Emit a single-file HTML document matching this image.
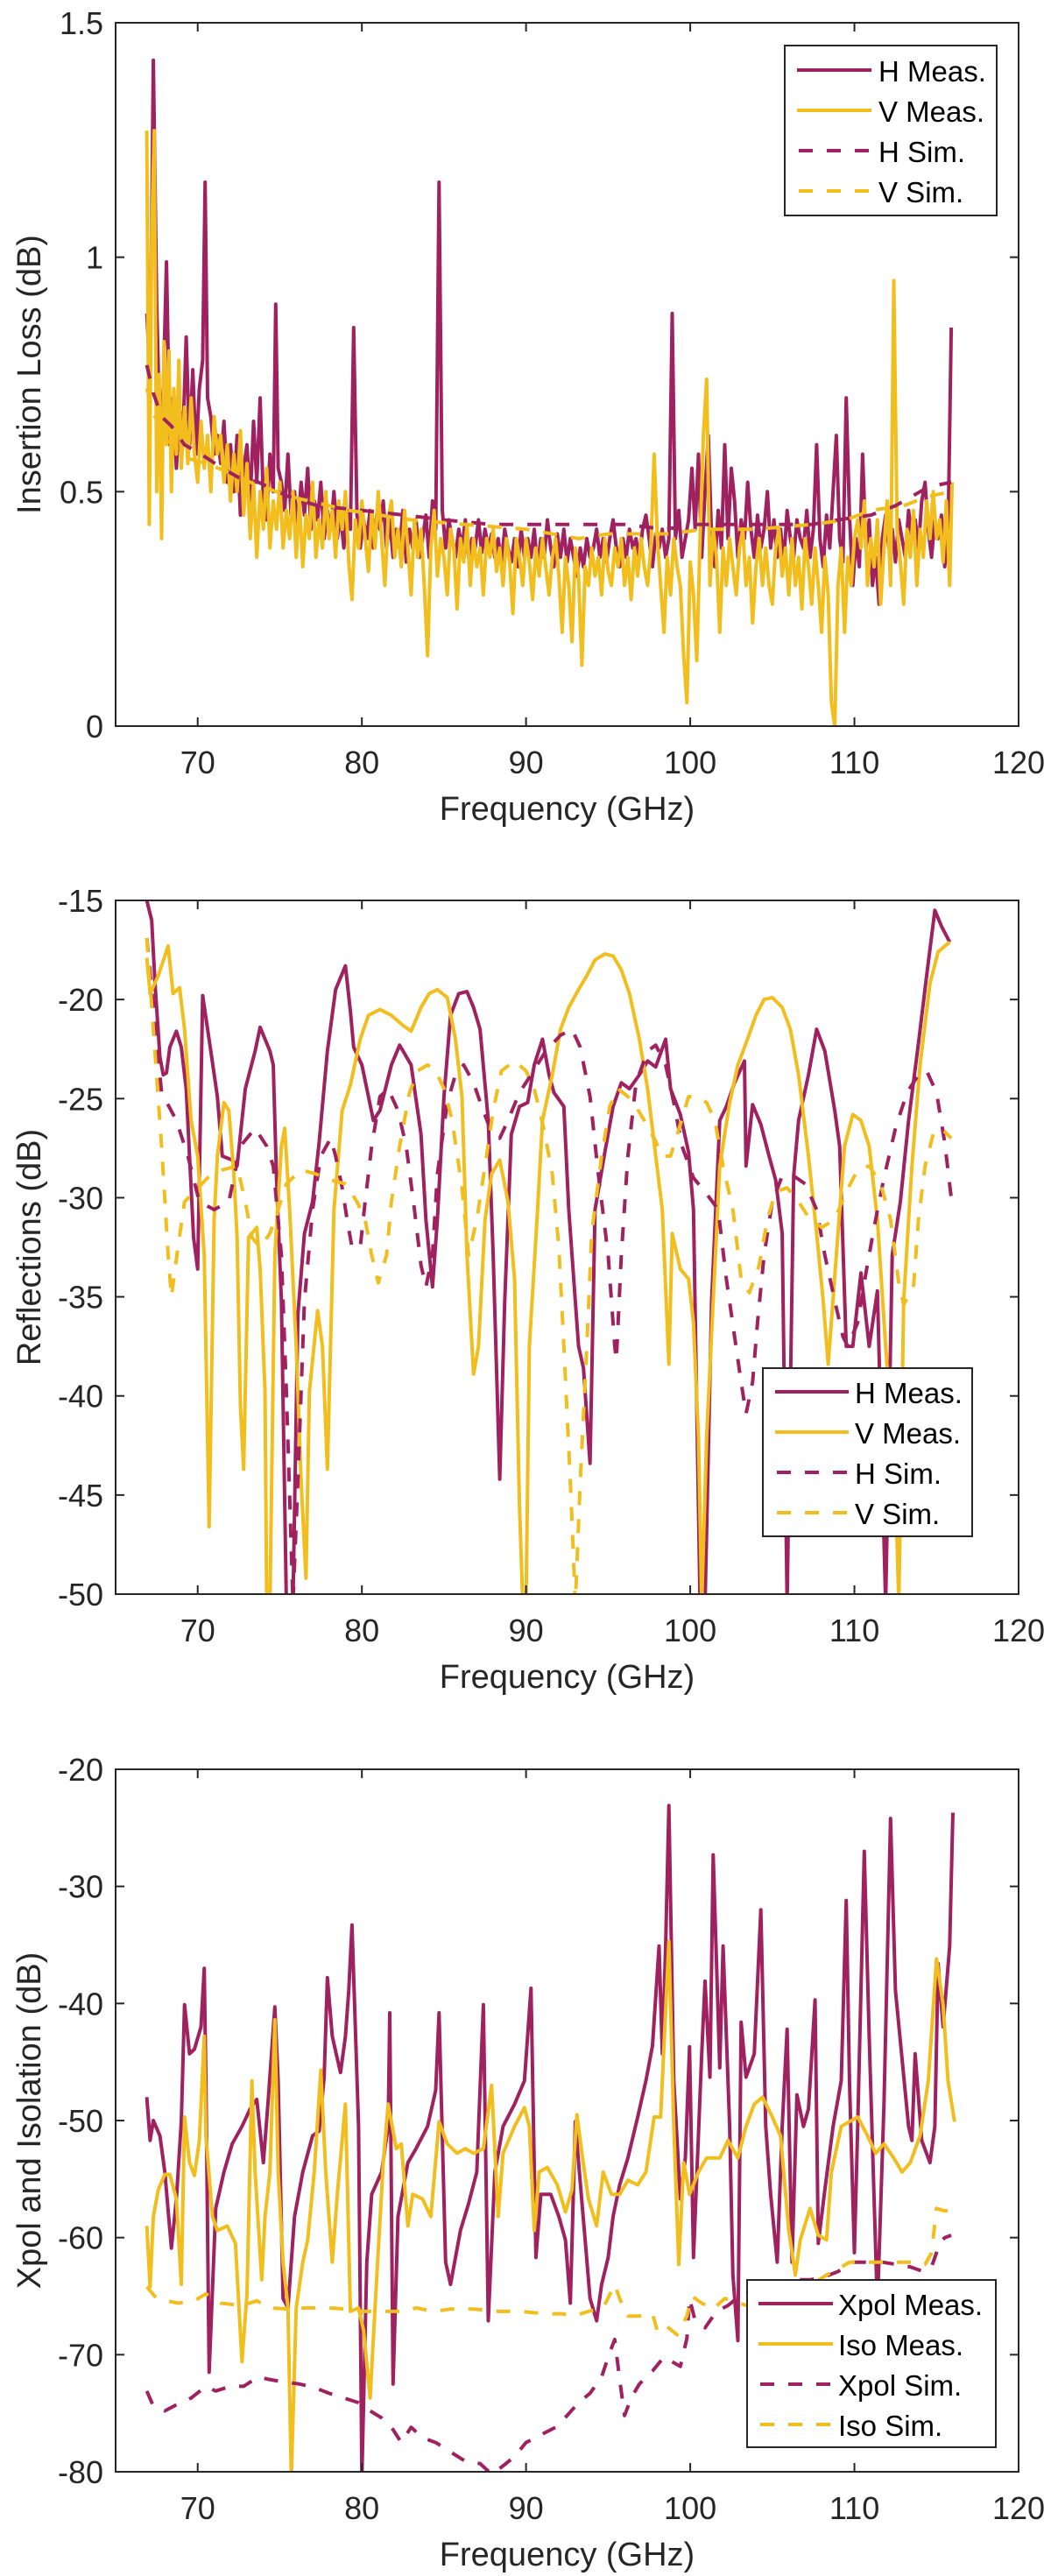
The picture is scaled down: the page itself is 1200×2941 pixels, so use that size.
<!DOCTYPE html>
<html><head><meta charset="utf-8"><style>
html,body{margin:0;padding:0;background:#fff;}
svg{display:block;font-family:"Liberation Sans",Arial,sans-serif;}
</style></head><body>
<svg id="fig" width="1200" height="2941" viewBox="0 0 1200 2941" xmlns="http://www.w3.org/2000/svg">
<defs>
<clipPath id="c1"><rect x="132" y="26" width="1031" height="803"/></clipPath>
<clipPath id="c2"><rect x="132" y="1028" width="1031" height="792"/></clipPath>
<clipPath id="c3"><rect x="132" y="2020" width="1031" height="802"/></clipPath>
</defs>
</svg>
<script>
// ---------- shared axis ----------
const xTicks = [70, 80, 90, 100, 110, 120];
const xMin = 65, xMax = 120;
// ---------- panel 1: insertion loss ----------
const ilTicks = [0, 0.5, 1, 1.5];
const ilTickLabels = ['0', '0.5', '1', '1.5'];
const ilHMeas = [[66.9,.88],[67.1,.75],[67.3,1.42],[67.5,.9],[67.7,.62],[67.9,.72],[68.1,.99],[68.3,.6],[68.5,.7],[68.7,.55],[68.9,.68],[69.1,.62],[69.3,.83],[69.5,.6],[69.7,.76],[69.9,.58],[70.1,.72],[70.3,.78],[70.45,1.16],[70.6,.7],[70.8,.66],[71,.58],[71.2,.62],[71.4,.56],[71.6,.65],[71.8,.52],[72,.6],[72.2,.5],[72.4,.62],[72.6,.45],[72.8,.55],[73,.6],[73.2,.48],[73.4,.65],[73.6,.52],[73.8,.7],[74,.48],[74.2,.44],[74.4,.58],[74.6,.5],[74.75,.9],[74.9,.55],[75.1,.52],[75.3,.46],[75.5,.58],[75.7,.44],[75.9,.5],[76.1,.42],[76.3,.52],[76.5,.45],[76.7,.55],[76.9,.42],[77.1,.48],[77.3,.44],[77.5,.52],[77.7,.4],[77.9,.46],[78.1,.42],[78.3,.5],[78.5,.4],[78.7,.45],[78.9,.38],[79.1,.46],[79.3,.42],[79.5,.85],[79.7,.45],[79.9,.38],[80.1,.44],[80.3,.4],[80.5,.46],[80.7,.38],[80.9,.45],[81.1,.42],[81.3,.48],[81.5,.38],[81.7,.44],[81.9,.36],[82.1,.42],[82.3,.38],[82.5,.46],[82.7,.35],[82.9,.42],[83.1,.38],[83.3,.44],[83.5,.36],[83.7,.4],[83.9,.45],[84.1,.36],[84.3,.48],[84.5,.42],[84.7,1.16],[84.9,.46],[85.1,.38],[85.3,.44],[85.5,.4],[85.7,.36],[85.9,.42],[86.1,.38],[86.3,.44],[86.5,.36],[86.7,.4],[86.9,.38],[87.1,.44],[87.3,.37],[87.5,.42],[87.7,.38],[87.9,.41],[88.1,.36],[88.3,.4],[88.5,.35],[88.7,.42],[88.9,.38],[89.1,.35],[89.3,.4],[89.5,.34],[89.7,.42],[89.9,.36],[90.1,.4],[90.3,.36],[90.5,.42],[90.7,.34],[90.9,.4],[91.1,.36],[91.3,.44],[91.5,.38],[91.7,.34],[91.9,.41],[92.1,.36],[92.3,.42],[92.5,.35],[92.7,.4],[92.9,.36],[93.1,.32],[93.3,.38],[93.5,.34],[93.7,.4],[93.9,.36],[94.1,.38],[94.3,.42],[94.5,.36],[94.7,.4],[94.9,.35],[95.1,.4],[95.3,.44],[95.5,.38],[95.7,.34],[95.9,.4],[96.1,.36],[96.3,.42],[96.5,.38],[96.7,.4],[96.9,.36],[97.1,.42],[97.3,.45],[97.5,.4],[97.7,.34],[97.9,.41],[98.1,.38],[98.3,.42],[98.5,.36],[98.7,.4],[98.9,.88],[99.1,.4],[99.3,.46],[99.5,.36],[99.7,.4],[99.9,.44],[100.1,.55],[100.3,.42],[100.5,.58],[100.7,.36],[100.9,.5],[101.1,.62],[101.3,.4],[101.5,.34],[101.7,.46],[101.9,.38],[102.1,.6],[102.3,.4],[102.5,.55],[102.7,.48],[102.9,.36],[103.1,.44],[103.3,.4],[103.5,.52],[103.7,.42],[103.9,.36],[104.1,.45],[104.3,.38],[104.5,.42],[104.7,.5],[104.9,.38],[105.1,.44],[105.3,.36],[105.5,.42],[105.7,.35],[105.9,.46],[106.1,.4],[106.3,.36],[106.5,.44],[106.7,.4],[106.9,.38],[107.1,.46],[107.3,.36],[107.5,.42],[107.7,.6],[107.9,.4],[108.1,.34],[108.3,.45],[108.5,.38],[108.7,.5],[108.9,.62],[109.1,.4],[109.3,.35],[109.5,.7],[109.7,.45],[109.9,.3],[110.1,.4],[110.3,.34],[110.5,.58],[110.7,.38],[110.9,.44],[111.1,.3],[111.3,.36],[111.5,.26],[111.7,.4],[111.9,.45],[112.1,.38],[112.3,.42],[112.5,.35],[112.7,.44],[112.9,.4],[113.1,.36],[113.3,.46],[113.5,.4],[113.7,.44],[113.9,.38],[114.1,.48],[114.3,.52],[114.5,.42],[114.7,.36],[114.9,.44],[115.1,.4],[115.3,.45],[115.5,.34],[115.7,.4],[115.9,.85]];
const ilVMeas = [[66.9,1.27],[67.05,.43],[67.2,1.05],[67.35,1.27],[67.5,.5],[67.65,.75],[67.8,.4],[67.95,.82],[68.1,.6],[68.25,.8],[68.4,.5],[68.55,.72],[68.7,.58],[68.85,.78],[69,.55],[69.2,.68],[69.4,.56],[69.6,.7],[69.8,.58],[70,.52],[70.2,.65],[70.4,.55],[70.6,.62],[70.8,.5],[71,.66],[71.2,.58],[71.4,.62],[71.6,.52],[71.8,.6],[72,.48],[72.2,.58],[72.4,.5],[72.6,.63],[72.8,.45],[73,.56],[73.2,.4],[73.4,.52],[73.6,.36],[73.8,.5],[74,.42],[74.2,.55],[74.4,.38],[74.6,.48],[74.8,.42],[75,.52],[75.2,.38],[75.4,.46],[75.6,.4],[75.8,.5],[76,.36],[76.2,.48],[76.4,.34],[76.6,.45],[76.8,.4],[77,.52],[77.2,.36],[77.4,.44],[77.6,.38],[77.8,.5],[78,.4],[78.2,.46],[78.4,.36],[78.6,.48],[78.8,.42],[79,.5],[79.2,.35],[79.4,.27],[79.6,.44],[79.8,.38],[80,.48],[80.2,.4],[80.4,.33],[80.6,.46],[80.8,.38],[81,.5],[81.2,.4],[81.4,.3],[81.6,.44],[81.8,.48],[82,.36],[82.2,.42],[82.4,.34],[82.6,.46],[82.8,.38],[83,.28],[83.2,.44],[83.4,.36],[83.6,.42],[83.8,.3],[84,.15],[84.2,.38],[84.4,.46],[84.6,.32],[84.8,.4],[85,.36],[85.2,.28],[85.4,.42],[85.6,.38],[85.8,.25],[86,.4],[86.2,.35],[86.4,.43],[86.6,.3],[86.8,.4],[87,.34],[87.2,.38],[87.4,.28],[87.6,.4],[87.8,.36],[88,.42],[88.2,.33],[88.4,.38],[88.6,.3],[88.8,.4],[89,.35],[89.2,.24],[89.4,.4],[89.6,.36],[89.8,.3],[90,.4],[90.2,.35],[90.4,.27],[90.6,.38],[90.8,.32],[91,.4],[91.2,.34],[91.4,.28],[91.6,.36],[91.8,.4],[92,.32],[92.2,.2],[92.4,.36],[92.6,.3],[92.8,.18],[93,.38],[93.2,.32],[93.4,.13],[93.6,.34],[93.8,.3],[94,.38],[94.2,.32],[94.4,.36],[94.6,.28],[94.8,.4],[95,.33],[95.2,.3],[95.4,.38],[95.6,.34],[95.8,.4],[96,.3],[96.2,.36],[96.4,.27],[96.6,.38],[96.8,.32],[97,.4],[97.2,.34],[97.4,.3],[97.6,.38],[97.8,.58],[98,.4],[98.2,.3],[98.4,.2],[98.6,.36],[98.8,.28],[99,.4],[99.2,.34],[99.4,.3],[99.6,.15],[99.8,.05],[100,.35],[100.2,.28],[100.4,.14],[100.6,.4],[100.8,.62],[101,.74],[101.2,.3],[101.4,.42],[101.6,.36],[101.8,.2],[102,.38],[102.2,.3],[102.4,.4],[102.6,.34],[102.8,.28],[103,.38],[103.2,.42],[103.4,.3],[103.6,.36],[103.8,.22],[104,.34],[104.2,.4],[104.4,.3],[104.6,.38],[104.8,.3],[105,.26],[105.2,.38],[105.4,.42],[105.6,.32],[105.8,.38],[106,.28],[106.2,.4],[106.4,.3],[106.6,.36],[106.8,.25],[107,.4],[107.2,.34],[107.4,.26],[107.6,.38],[107.8,.3],[108,.2],[108.2,.36],[108.4,.28],[108.6,.05],[108.8,0],[109,.3],[109.2,.38],[109.4,.2],[109.6,.36],[109.8,.3],[110,.4],[110.2,.44],[110.4,.38],[110.6,.48],[110.8,.3],[111,.4],[111.2,.34],[111.4,.44],[111.6,.26],[111.8,.38],[112,.48],[112.2,.3],[112.4,.95],[112.6,.42],[112.8,.35],[113,.26],[113.2,.42],[113.4,.36],[113.6,.46],[113.8,.3],[114,.42],[114.2,.36],[114.4,.48],[114.6,.4],[114.8,.5],[115,.4],[115.2,.44],[115.4,.35],[115.6,.48],[115.8,.3],[115.95,.52]];
const ilHSim = [[66.9,.77],[67.3,.71],[67.8,.66],[68.4,.64],[69.2,.6],[70.2,.58],[71.5,.55],[72.5,.53],[73.7,.52],[75.5,.49],[77.3,.47],[80,.46],[82.6,.45],[85,.44],[87.9,.43],[90.5,.43],[93.2,.43],[96,.43],[98.5,.42],[100.3,.43],[103,.43],[105,.43],[107.4,.43],[109,.44],[111,.45],[112.5,.47],[113.5,.49],[114.5,.51],[115.9,.52]];
const ilVSim = [[66.9,.72],[67.4,.66],[68.4,.6],[69.5,.57],[70.5,.56],[72,.54],[73.2,.52],[75.6,.49],[79.2,.46],[83,.44],[86.3,.43],[90,.42],[93.2,.4],[95,.41],[98.5,.41],[101,.42],[104,.42],[107.4,.43],[109.5,.44],[111,.46],[113,.47],[114.5,.49],[115.9,.5]];
// ---------- panel 2: reflections ----------
const rlTicks = [-50, -45, -40, -35, -30, -25, -20, -15];
const rlTickLabels = ['-50', '-45', '-40', '-35', '-30', '-25', '-20', '-15'];
const rlHMeas = [[66.9,-15],[67.2,-16],[67.4,-19.2],[67.7,-22.9],[67.9,-23.8],[68.1,-23.7],[68.3,-22.4],[68.7,-21.6],[69,-22.4],[69.3,-24.5],[69.75,-32],[70,-33.6],[70.3,-19.8],[70.8,-22.6],[71.2,-24.9],[71.5,-27.9],[72.1,-28.1],[72.4,-28.4],[72.9,-24.5],[73.5,-22.6],[73.8,-21.4],[74.4,-22.6],[74.6,-23.3],[74.8,-29],[75.1,-35.2],[75.4,-50.5],[75.8,-50.5],[76.1,-35.9],[76.5,-31.8],[77,-30.2],[77.4,-27.2],[77.9,-22.6],[78.4,-19.5],[79,-18.3],[79.3,-20.6],[79.5,-22.4],[80,-23.3],[80.4,-24.9],[80.7,-26.1],[81.1,-25.6],[81.8,-23.3],[82.3,-22.3],[83,-23.3],[83.6,-26.8],[83.9,-31.1],[84.3,-34.5],[84.6,-31.1],[85,-24.9],[85.4,-20.8],[85.9,-19.7],[86.4,-19.6],[86.8,-20.4],[87.2,-21.5],[87.7,-26.1],[88,-32.9],[88.4,-44.2],[88.7,-35.2],[89.1,-26.8],[89.6,-25.4],[90.1,-25.2],[90.5,-23.3],[91,-22],[91.4,-23.8],[91.7,-24.7],[92.3,-25.4],[92.6,-30.6],[93.2,-37.5],[93.5,-38.6],[93.9,-43.4],[94.2,-30.6],[94.8,-27.7],[95.3,-25.4],[95.8,-24.2],[96.3,-24.5],[96.9,-23.8],[97.4,-23.1],[97.9,-23.4],[98.5,-22],[98.8,-24.5],[99.4,-25.8],[99.9,-27.7],[100.2,-30.6],[100.6,-50.5],[100.9,-50.5],[101.3,-35.2],[101.8,-26.1],[102.2,-25.4],[102.7,-24.2],[103.3,-23.1],[103.4,-28.4],[103.8,-25.3],[104.3,-26.3],[104.8,-27.9],[105.2,-29.1],[105.6,-31.8],[105.9,-50.5],[106.3,-28.9],[106.6,-26.1],[107.2,-23.8],[107.7,-21.5],[108.2,-22.6],[108.8,-25.6],[109.1,-27.4],[109.5,-37.5],[109.9,-37.5],[110.4,-33.8],[110.9,-37.5],[111.4,-34.7],[111.9,-50.5],[112.3,-32.9],[112.8,-30.2],[113.3,-26.1],[113.9,-22.2],[114.4,-18.8],[114.9,-15.5],[115.3,-16.3],[115.8,-17.1]];
const rlVMeas = [[66.9,-17.9],[67.1,-19.7],[67.6,-18.8],[68.2,-17.3],[68.5,-19.7],[68.9,-19.4],[69.2,-21.5],[69.6,-26.1],[70,-27.9],[70.4,-32.9],[70.7,-46.6],[71,-31.1],[71.2,-27.9],[71.6,-25.2],[71.9,-25.6],[72.2,-28.8],[72.4,-32],[72.6,-40.5],[72.8,-43.7],[73.1,-32],[73.6,-31.5],[73.8,-33.6],[74.1,-39.8],[74.2,-50.5],[74.4,-50.5],[74.7,-32.9],[75.1,-27.4],[75.3,-26.5],[75.6,-30.6],[76,-37.5],[76.3,-44.3],[76.6,-49.2],[76.8,-39.8],[77.3,-35.7],[77.6,-37.5],[77.9,-43.7],[78.3,-30.6],[78.8,-25.6],[79.3,-24.3],[79.9,-22],[80.4,-20.8],[81.1,-20.5],[81.8,-20.8],[82.5,-21.3],[83,-21.6],[83.6,-20.4],[84.1,-19.7],[84.6,-19.5],[85.2,-19.9],[85.7,-22],[86.1,-24.9],[86.4,-32.9],[86.8,-38.9],[87.1,-37.5],[87.5,-31.1],[87.9,-28.8],[88.4,-28.1],[88.9,-30.2],[89.3,-34.1],[89.6,-45.5],[89.8,-50.5],[90,-50.5],[90.2,-37.5],[90.7,-30.6],[91,-26.1],[91.6,-23.8],[92.1,-21.5],[92.6,-20.4],[93.2,-19.5],[93.7,-18.8],[94.2,-18],[94.8,-17.7],[95.3,-17.8],[95.8,-18.5],[96.3,-19.7],[96.9,-22],[97.4,-24.5],[97.9,-27.9],[98.3,-30.6],[98.7,-38.4],[98.9,-31.8],[99.4,-33.6],[99.9,-34.1],[100.2,-36.3],[100.5,-42.1],[100.7,-50.5],[101,-42.1],[101.4,-35.2],[101.8,-28.4],[102.4,-25.2],[102.9,-23.3],[103.4,-22.2],[104,-20.8],[104.5,-20],[105,-19.9],[105.6,-20.4],[106.1,-21.5],[106.6,-23.8],[107.2,-27.9],[107.7,-31.8],[108.1,-35.2],[108.4,-38.4],[108.9,-32.9],[109.4,-27.4],[109.9,-25.8],[110.4,-26.1],[110.9,-27.4],[111.4,-31.1],[111.9,-37.5],[112.5,-44.3],[112.7,-50.5],[113,-35.2],[113.5,-28.4],[114,-23.3],[114.6,-19.2],[115.1,-17.6],[115.8,-17.1]];
const rlHSim = [[66.9,-16.9],[67.3,-20.4],[67.8,-24.7],[68.7,-26.1],[69.4,-27.9],[70.1,-30.2],[71,-30.6],[71.9,-30.2],[72.6,-27.4],[73.5,-26.5],[74.2,-27.4],[74.6,-28.4],[75.1,-32.9],[75.4,-39.8],[75.8,-50.5],[76.1,-44.3],[76.5,-35.2],[77,-30.6],[77.5,-27.9],[78.1,-27],[78.4,-27.9],[78.8,-29.5],[79.1,-31.1],[79.4,-32.5],[79.9,-32.5],[80.2,-30.2],[80.6,-27.4],[81.1,-24.9],[81.6,-24.5],[82.2,-25.6],[82.7,-27.4],[83.2,-30.6],[83.6,-33.4],[83.9,-34.5],[84.3,-32.9],[84.6,-28.8],[85.2,-25.2],[85.7,-23.8],[86.2,-23.3],[86.8,-24.2],[87.3,-25.4],[87.8,-26.5],[88.4,-27],[88.9,-26.1],[89.6,-24.7],[90.3,-23.8],[91.2,-22.6],[92.1,-21.8],[92.8,-21.5],[93.3,-22.4],[93.9,-24.9],[94.4,-28.8],[95,-32.9],[95.4,-37.5],[95.5,-38.2],[95.8,-32.9],[96.2,-27.9],[96.7,-24.2],[97.4,-22.6],[97.9,-22.3],[98.5,-23.3],[99,-25.2],[99.5,-27.4],[100.2,-29],[100.9,-29.7],[101.7,-30.6],[102.2,-34.1],[102.7,-37],[103.1,-39.3],[103.4,-40.9],[103.8,-39.3],[104.1,-36.3],[104.5,-32.9],[105,-30.2],[105.6,-28.9],[106.3,-28.9],[107,-29.3],[107.7,-30.6],[108.2,-32.9],[108.8,-35.2],[109.3,-37],[109.6,-37.5],[110.2,-36.3],[110.7,-33.8],[111.2,-31.5],[111.8,-29],[112.5,-26.5],[113.2,-24.7],[113.9,-23.8],[114.4,-23.6],[115,-24.7],[115.5,-27.2],[115.9,-30]];
const rlVSim = [[66.9,-16.9],[67.3,-21.5],[67.8,-27.4],[68.2,-32.9],[68.4,-35],[68.8,-32.5],[69.2,-30.2],[69.8,-29.7],[70.6,-29],[71.5,-28.6],[72.4,-28.4],[72.9,-30.2],[73.3,-32],[73.8,-32.5],[74.4,-31.8],[74.9,-30.6],[75.4,-29.3],[76.3,-28.6],[77.2,-28.8],[78.1,-29.1],[79,-29.3],[79.7,-30.2],[80.2,-31.1],[80.6,-32.9],[81,-34.3],[81.5,-32.9],[81.8,-30.2],[82.3,-27.4],[82.9,-24.7],[83.4,-23.6],[84,-23.3],[84.5,-23.6],[85,-24.5],[85.5,-26.1],[86.1,-29.5],[86.5,-32.9],[87,-31.1],[87.5,-28.4],[88,-25.6],[88.5,-23.6],[89.3,-23.1],[90,-23.6],[90.5,-24.5],[91.1,-26.6],[91.6,-28.8],[92,-32.5],[92.3,-37.5],[92.7,-44.3],[93,-50.5],[93.3,-44.3],[93.7,-37.5],[94,-31.8],[94.6,-27.9],[95.1,-25.4],[95.6,-24.5],[96.2,-24.9],[96.7,-25.4],[97.2,-26.1],[97.8,-27],[98.3,-27.9],[98.8,-27.9],[99.4,-26.3],[99.9,-24.9],[100.4,-24.9],[101,-25.2],[101.5,-26.1],[102,-28.4],[102.6,-30.6],[103.1,-34.1],[103.6,-34.8],[104.2,-33.4],[104.7,-31.1],[105.2,-29.7],[105.9,-29.5],[106.6,-30.2],[107.3,-31.1],[108,-31.5],[108.8,-31.1],[109.5,-29.7],[110.2,-28.6],[110.9,-28.4],[111.6,-29.3],[112.2,-31.1],[112.7,-34.3],[113,-35.4],[113.6,-34.5],[113.9,-31.1],[114.3,-28.4],[114.8,-26.8],[115.3,-26.5],[115.9,-27]];
// ---------- panel 3: xpol / isolation ----------
const xpTicks = [-80, -70, -60, -50, -40, -30, -20];
const xpTickLabels = ['-80', '-70', '-60', '-50', '-40', '-30', '-20'];
const xpXMeas = [[66.9,-48],[67.1,-51.7],[67.3,-50],[67.7,-51.3],[68,-54.4],[68.4,-60.9],[68.7,-56.7],[69,-50.1],[69.2,-40.1],[69.5,-44.3],[69.8,-43.9],[70.2,-42],[70.4,-37],[70.5,-46.6],[70.7,-71.5],[71.1,-57.5],[71.6,-54.4],[72.1,-52],[72.7,-50.5],[73.2,-49],[73.6,-48.2],[74,-53.6],[74.3,-48.2],[74.7,-40.3],[74.9,-46.6],[75.2,-65.2],[75.5,-66],[75.9,-58.2],[76.4,-54.4],[77,-51.3],[77.4,-50.9],[77.7,-46.3],[77.9,-37.8],[78.2,-42.8],[78.5,-44.7],[78.7,-45.9],[79,-42.8],[79.2,-38.9],[79.4,-33.3],[79.8,-50.5],[80,-80.5],[80.3,-62.1],[80.6,-56.3],[81.2,-54.4],[81.6,-50.5],[81.7,-40.8],[81.9,-72.5],[82.2,-58.2],[82.8,-53.6],[83.3,-52.4],[84,-50.5],[84.5,-47.4],[84.7,-40.8],[85.1,-62.1],[85.4,-64],[86,-59.4],[86.5,-57.1],[87,-54.4],[87.4,-40.1],[87.7,-67.1],[88.1,-54.4],[88.6,-50.5],[89.3,-48.6],[89.9,-46.6],[90.3,-38.7],[90.6,-61.7],[90.9,-56.3],[91.5,-56.3],[92,-58.2],[92.4,-60.2],[92.7,-65.6],[93,-50.1],[93.2,-53.6],[93.6,-60.2],[93.9,-65.2],[94.3,-67.1],[94.6,-64],[95,-61.7],[95.3,-58.2],[95.7,-55.5],[96.2,-53.2],[96.8,-49.7],[97.3,-46.6],[97.7,-43.6],[98.1,-35.1],[98.3,-44.3],[98.5,-35.1],[98.7,-23.1],[99,-46.6],[99.4,-56.7],[99.7,-53.2],[99.96,-43.7],[100.2,-61.7],[100.7,-44.3],[100.9,-38.1],[101.2,-46.3],[101.4,-27.3],[101.8,-45.5],[102,-35.1],[102.4,-50.5],[102.6,-63.2],[102.9,-68.8],[103.1,-41.6],[103.4,-46.3],[103.9,-44.3],[104.3,-32],[104.6,-50.5],[104.9,-56.3],[105.3,-62.1],[105.6,-50.5],[105.9,-42.2],[106.2,-62.1],[106.5,-47.8],[106.9,-50.5],[107.2,-49],[107.6,-39.7],[107.8,-60.5],[108.2,-55.9],[108.7,-50.5],[109.2,-46.6],[109.5,-31.2],[109.7,-46.6],[110,-61.3],[110.2,-50.5],[110.6,-27],[110.9,-42.8],[111.4,-66],[111.8,-48.6],[112.2,-24.2],[112.5,-38.9],[112.9,-44.7],[113.3,-50.5],[113.5,-51.7],[113.7,-44.3],[114.1,-51.7],[114.6,-53.6],[114.9,-50.5],[115.1,-36.6],[115.4,-42],[115.8,-35.1],[116,-23.7]];
const xpIMeas = [[66.9,-59],[67.1,-64.2],[67.3,-58.2],[67.6,-55.9],[68,-54.6],[68.3,-54.6],[68.7,-56.7],[69,-64],[69.2,-49.7],[69.5,-53.6],[69.8,-54.7],[70.1,-51.7],[70.4,-42.8],[70.5,-51.3],[70.9,-58.2],[71.2,-59.4],[71.8,-59],[72.3,-60.5],[72.7,-70.6],[73,-64.8],[73.3,-46.6],[73.5,-54.4],[73.9,-63.6],[74.1,-58.2],[74.4,-54.4],[74.7,-41.4],[74.9,-54.4],[75.2,-62.1],[75.5,-66],[75.7,-80.5],[76,-66],[76.4,-62.1],[76.7,-60.2],[77.1,-54.4],[77.5,-45.7],[77.8,-54.4],[78.2,-62.1],[78.5,-56.3],[79,-48.6],[79.3,-66.3],[79.8,-66],[80.1,-67.9],[80.5,-73.7],[80.8,-66],[81.3,-53.6],[81.6,-48.6],[82.1,-52.4],[82.4,-52],[82.8,-59],[83.1,-56.3],[83.7,-56.7],[84.2,-58.2],[84.7,-50.1],[85.2,-52],[85.8,-52.8],[86.3,-52.4],[86.8,-52.8],[87.4,-52.4],[87.9,-47],[88.3,-58.2],[88.6,-52.8],[89.3,-50.5],[89.9,-48.9],[90.2,-50.5],[90.5,-59.4],[90.8,-54.4],[91.3,-54],[91.9,-55.5],[92.4,-57.8],[92.8,-55.9],[93.1,-49.5],[93.4,-52.8],[93.8,-56.7],[94.3,-59],[94.7,-54.4],[95.2,-56.3],[95.7,-56.3],[96.2,-55.1],[96.8,-55.5],[97.3,-54.4],[97.8,-49.7],[98.2,-49.7],[98.7,-34.7],[99,-50.5],[99.3,-62.3],[99.6,-53.6],[99.96,-56.3],[100.5,-54.4],[101,-53.2],[101.8,-53.2],[102.3,-51.7],[102.9,-53.2],[103.4,-50.5],[103.9,-48.6],[104.4,-48],[105,-49.7],[105.5,-51.3],[106,-59.4],[106.4,-63.2],[106.7,-60.2],[107.3,-57.5],[107.8,-59.8],[108.3,-60.2],[108.6,-54.4],[109.2,-50.5],[109.7,-50.1],[110.2,-49.7],[110.8,-51.3],[111.3,-52.8],[111.8,-52],[112.4,-53.2],[112.9,-54.4],[113.4,-53.6],[114,-51.3],[114.5,-46.6],[115,-36.2],[115.4,-40.1],[115.7,-46.6],[116.1,-50.1]];
const xpXSim = [[66.9,-73.1],[67.3,-74.4],[68,-74.8],[68.8,-74.2],[69.6,-73.7],[70.5,-72.7],[71.1,-73.1],[72,-72.7],[72.8,-72.7],[73.7,-71.9],[74.3,-72.1],[75.1,-72.3],[76.2,-72.5],[77.1,-72.8],[78,-73.3],[78.9,-73.7],[79.8,-74.1],[80.5,-74.8],[81.2,-75.4],[81.9,-76.4],[82.4,-77.5],[83,-76.2],[83.7,-77.1],[84.5,-77.5],[85.4,-78.3],[86.3,-79.1],[87.2,-79.3],[87.9,-80.2],[88.6,-79.5],[89.3,-78.7],[90,-77.5],[90.6,-77.1],[91.1,-76.7],[91.8,-76.2],[92.5,-75.2],[93.2,-74.1],[93.9,-73.3],[94.6,-71.9],[95.1,-69.8],[95.4,-68.7],[95.7,-72.1],[96,-75.2],[96.4,-73.7],[96.9,-72.5],[97.7,-71.4],[98.4,-70.2],[98.9,-70.6],[99.4,-71],[99.8,-68.6],[99.96,-65.2],[100.3,-67.1],[100.9,-67.7],[101.6,-66.3],[102.3,-65.8],[103,-65],[103.8,-64.6],[104.6,-64],[105.5,-63.8],[106.4,-63.6],[107.3,-63.6],[108.1,-63.4],[109,-62.9],[109.9,-62.1],[110.8,-62.1],[111.7,-62.1],[112.6,-62.3],[113.4,-62.5],[114.2,-62.9],[114.7,-62.5],[115.2,-60.5],[115.5,-60],[115.9,-59.8]];
const xpISim = [[66.9,-64.2],[67.5,-65.2],[68.8,-65.6],[69.8,-65.4],[70.5,-64.8],[71.4,-65.6],[72.7,-65.8],[73.6,-65.4],[74.4,-66],[75.5,-66.1],[76.6,-66],[78,-66],[79,-66.1],[80.1,-66.3],[81.5,-66.3],[82.6,-66.3],[83.3,-66],[84.4,-66.3],[85.4,-66.1],[86.8,-66.1],[88.3,-66.3],[89.7,-66.3],[91.1,-66.5],[92.2,-66.5],[92.9,-66.7],[93.8,-66.3],[94.7,-66],[95.4,-64],[95.7,-65.2],[96.2,-66.7],[96.9,-66.7],[97.7,-66.5],[98,-68],[98.5,-67.5],[99.2,-68.3],[99.8,-66.7],[100.1,-65],[100.7,-65.6],[101.4,-66.1],[102.1,-65.2],[103,-65.6],[103.9,-66],[104.6,-65.2],[105.5,-64.6],[106.3,-64.4],[107.4,-64],[108.3,-63.2],[109,-62.7],[109.7,-62.1],[110.6,-62.1],[111.7,-62.1],[112.7,-62.1],[113.8,-62.1],[114.3,-62.3],[114.7,-61.3],[115,-57.5],[115.4,-57.7],[115.9,-57.7]];

const MAROON = '#A0215F', YELLOW = '#F1BE1E', AXC = '#262626';
const NS = 'http://www.w3.org/2000/svg';
const svg = document.getElementById('fig');
const X0 = 132, X1 = 1163;
function xScale(f) { return X0 + (f - xMin) / (xMax - xMin) * (X1 - X0); }
function mk(tag, attrs, parent) {
  const e = document.createElementNS(NS, tag);
  for (const k in attrs) e.setAttribute(k, attrs[k]);
  (parent || svg).appendChild(e);
  return e;
}
function drawPanel(p) {
  const g = mk('g', {});
  
  
  const yScale = v => p.top + (p.ymax - v) / (p.ymax - p.ymin) * (p.bottom - p.top);
  const lines = mk('g', { 'clip-path': 'url(#' + p.clip + ')' }, g);
  p.series.forEach(s => {
    const pts = s.data.map(d => xScale(d[0]).toFixed(1) + ',' + yScale(d[1]).toFixed(1)).join(' ');
    const pl = mk('polyline', { points: pts, fill: 'none', stroke: s.color, 'stroke-width': 4, 'stroke-linejoin': 'round' }, lines);
    if (s.dash) pl.setAttribute('stroke-dasharray', '16 16');
    
    
  });
  // box
  const box = mk('rect', { x: X0, y: p.top, width: X1 - X0, height: p.bottom - p.top, fill: 'none', stroke: AXC, 'stroke-width': 2 }, g);
  
  
  // x ticks
  xTicks.forEach(t => {
    const x = xScale(t);
    mk('line', { x1: x, x2: x, y1: p.bottom, y2: p.bottom - 10, stroke: AXC, 'stroke-width': 2 }, g);
    mk('line', { x1: x, x2: x, y1: p.top, y2: p.top + 10, stroke: AXC, 'stroke-width': 2 }, g);
    const tl = mk('text', { x: x, y: p.bottom + 54, 'text-anchor': 'middle', 'font-size': 36, fill: AXC }, g);
    tl.textContent = String(t);
    
    
  });
  p.ticks.forEach((t, i) => {
    const y = yScale(t);
    mk('line', { x1: X0, x2: X0 + 10, y1: y, y2: y, stroke: AXC, 'stroke-width': 2 }, g);
    mk('line', { x1: X1, x2: X1 - 10, y1: y, y2: y, stroke: AXC, 'stroke-width': 2 }, g);
    const tl = mk('text', { x: 118, y: y + 13, 'text-anchor': 'end', 'font-size': 36, fill: AXC }, g);
    tl.textContent = p.tickLabels[i];
    
    
  });
  const xl = mk('text', { x: (X0 + X1) / 2, y: p.bottom + 107, 'text-anchor': 'middle', 'font-size': 38, fill: AXC }, g);
  xl.textContent = 'Frequency (GHz)';
  
  
  const cy = (p.top + p.bottom) / 2;
  const yl = mk('text', { x: 46, y: cy, 'text-anchor': 'middle', 'font-size': 38, fill: AXC, transform: 'rotate(-90 46 ' + cy + ')' }, g);
  yl.textContent = p.ylabel;
  
  
  // legend
  const L = p.legend;
  const lg = mk('g', {}, g);
  
  
  mk('rect', { x: L.x0, y: L.y0, width: L.x1 - L.x0, height: L.y1 - L.y0, fill: '#fff', stroke: AXC, 'stroke-width': 2 }, lg);
  p.series.forEach((s, i) => {
    const ly = L.ly + i * 46;
    const ln = mk('line', { x1: L.lx0, x2: L.lx1, y1: ly, y2: ly, stroke: s.color, 'stroke-width': 4 }, lg);
    if (s.dash) { ln.setAttribute('stroke-dasharray', '16 16'); ln.setAttribute('x1', L.lx0 + 2); }
    const tx = mk('text', { x: L.tx, y: ly + 13, 'font-size': 33, fill: '#000' }, lg);
    tx.textContent = s.label;
    
    
  });
}
drawPanel({ name: 'insertion-loss-chart', clip: 'c1', top: 26, bottom: 829, ymin: 0, ymax: 1.5,
  ticks: ilTicks, tickLabels: ilTickLabels, ylabel: 'Insertion Loss (dB)',
  series: [
    { id: 'h-meas-line', label: 'H Meas.', data: ilHMeas, color: MAROON, dash: false },
    { id: 'v-meas-line', label: 'V Meas.', data: ilVMeas, color: YELLOW, dash: false },
    { id: 'h-sim-line', label: 'H Sim.', data: ilHSim, color: MAROON, dash: true },
    { id: 'v-sim-line', label: 'V Sim.', data: ilVSim, color: YELLOW, dash: true }],
  legend: { x0: 896, x1: 1138, y0: 52, y1: 246, lx0: 910, lx1: 995, ly: 80, tx: 1003 } });
drawPanel({ name: 'reflections-chart', clip: 'c2', top: 1028, bottom: 1820, ymin: -50, ymax: -15,
  ticks: rlTicks, tickLabels: rlTickLabels, ylabel: 'Reflections (dB)',
  series: [
    { id: 'h-meas-line', label: 'H Meas.', data: rlHMeas, color: MAROON, dash: false },
    { id: 'v-meas-line', label: 'V Meas.', data: rlVMeas, color: YELLOW, dash: false },
    { id: 'h-sim-line', label: 'H Sim.', data: rlHSim, color: MAROON, dash: true },
    { id: 'v-sim-line', label: 'V Sim.', data: rlVSim, color: YELLOW, dash: true }],
  legend: { x0: 871, x1: 1110, y0: 1562, y1: 1754, lx0: 885, lx1: 969, ly: 1589, tx: 976 } });
drawPanel({ name: 'xpol-isolation-chart', clip: 'c3', top: 2020, bottom: 2822, ymin: -80, ymax: -20,
  ticks: xpTicks, tickLabels: xpTickLabels, ylabel: 'Xpol and Isolation (dB)',
  series: [
    { id: 'xpol-meas-line', label: 'Xpol Meas.', data: xpXMeas, color: MAROON, dash: false },
    { id: 'iso-meas-line', label: 'Iso Meas.', data: xpIMeas, color: YELLOW, dash: false },
    { id: 'xpol-sim-line', label: 'Xpol Sim.', data: xpXSim, color: MAROON, dash: true },
    { id: 'iso-sim-line', label: 'Iso Sim.', data: xpISim, color: YELLOW, dash: true }],
  legend: { x0: 853, x1: 1137, y0: 2603, y1: 2794, lx0: 866, lx1: 951, ly: 2630, tx: 957 } });
</script>
</body></html>
